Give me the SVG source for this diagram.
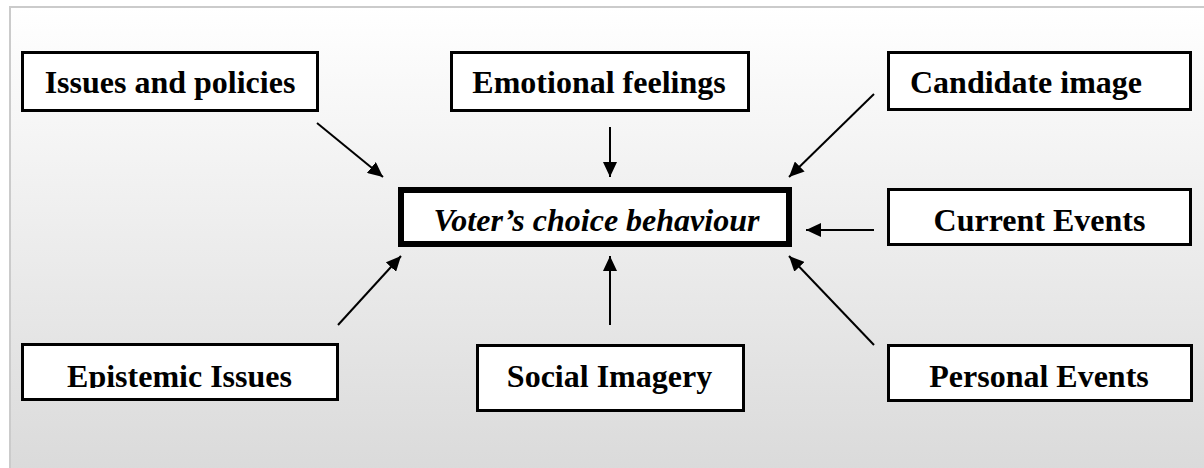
<svg xmlns="http://www.w3.org/2000/svg" width="1204" height="468" viewBox="0 0 1204 468">
  <style>
    .box { fill: #ffffff; stroke: #000000; stroke-width: 3; }
    .main { fill: #ffffff; stroke: #000000; stroke-width: 6; }
    .lbl { font-family: 'Liberation Serif', Tinos, 'Times New Roman', Times, 'DejaVu Serif', serif; font-weight: 700; font-size: 32px; fill: #000000; text-anchor: middle; }
    .lbl-i { font-style: italic; }
    .conn { stroke: #000000; stroke-width: 2; fill: none; marker-end: url(#head); }
  </style>
  <defs>
    <linearGradient id="bg" x1="0" y1="0" x2="0" y2="1">
      <stop offset="0" stop-color="#ffffff"/>
      <stop offset="1" stop-color="#d9d9d9"/>
    </linearGradient>
    <marker id="head" markerUnits="userSpaceOnUse" markerWidth="16" markerHeight="14" refX="15" refY="7" orient="auto">
      <path d="M0,0 L15,7 L0,14 Z" fill="#000000"/>
    </marker>
    <clipPath id="clipEpi">
      <rect x="24" y="346" width="312" height="42"/>
    </clipPath>
  </defs>

  <!-- backdrop panel -->
  <rect x="0" y="0" width="1204" height="468" fill="#ffffff"/>
  <rect x="10" y="7" width="1210" height="480" fill="url(#bg)" stroke="#cbcbcb" stroke-width="2"/>

  <!-- connectors -->
  <g id="connectors">
    <line class="conn" x1="317" y1="123" x2="383" y2="177"/>
    <line class="conn" x1="610" y1="127" x2="610" y2="177"/>
    <line class="conn" x1="874" y1="94" x2="789" y2="177"/>
    <line class="conn" x1="874" y1="230" x2="806" y2="230"/>
    <line class="conn" x1="874" y1="345" x2="789" y2="256"/>
    <line class="conn" x1="610" y1="325" x2="610" y2="256"/>
    <line class="conn" x1="338" y1="325" x2="401" y2="256"/>
  </g>

  <g id="issues">
    <rect class="box" x="22.5" y="52.5" width="295" height="58"/>
    <text class="lbl" x="170" y="93">Issues and policies</text>
  </g>
  <g id="emotional">
    <rect class="box" x="451.5" y="52.5" width="297" height="58"/>
    <text class="lbl" x="599" y="93">Emotional feelings</text>
  </g>
  <g id="candidate">
    <rect class="box" x="888.5" y="52.5" width="302" height="57"/>
    <text class="lbl" x="1026" y="93">Candidate image</text>
  </g>
  <g id="current">
    <rect class="box" x="888.5" y="189.5" width="302" height="55"/>
    <text class="lbl" x="1039.5" y="231">Current Events</text>
  </g>
  <g id="choice">
    <rect class="main" x="401" y="190" width="388" height="54"/>
    <text class="lbl lbl-i" x="596.5" y="231">Voter’s choice behaviour</text>
  </g>
  <g id="epistemic">
    <rect class="box" x="22.5" y="344.5" width="315" height="55"/>
    <text class="lbl" x="179.5" y="387" clip-path="url(#clipEpi)">Epistemic Issues</text>
  </g>
  <g id="social">
    <rect class="box" x="477.5" y="345.5" width="266" height="65"/>
    <text class="lbl" x="609.5" y="387">Social Imagery</text>
  </g>
  <g id="personal">
    <rect class="box" x="888.5" y="345.5" width="303" height="55"/>
    <text class="lbl" x="1039" y="387">Personal Events</text>
  </g>
</svg>
